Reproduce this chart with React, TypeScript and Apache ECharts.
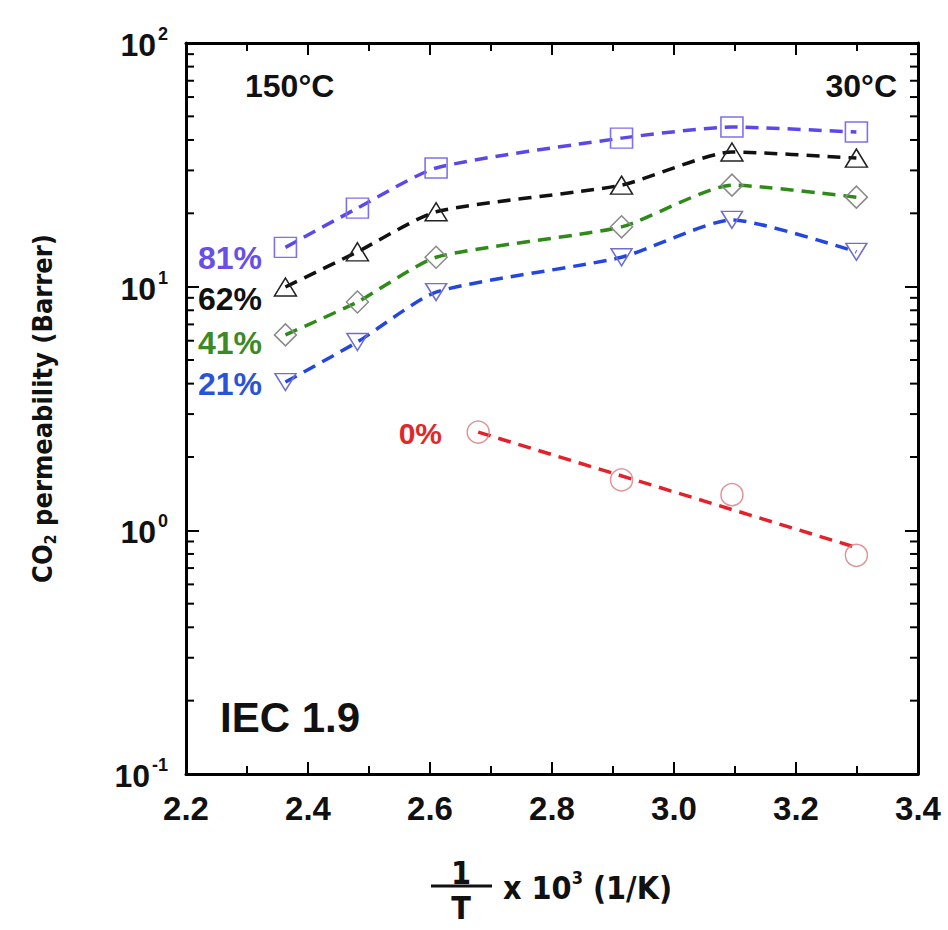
import React, { useEffect, useRef } from 'react';
import * as echarts from 'echarts';

// 1/T x 10^3 (1/K)
const invT = [2.363, 2.481, 2.61, 2.914, 3.095, 3.299];
// CO2 permeability (Barrer) at relative humidity
const rh81 = [14.5, 21.0, 30.7, 40.7, 45.2, 43.1];
const rh62 = [9.97, 13.9, 20.3, 26.1, 35.7, 33.7];
const rh41 = [6.34, 8.65, 13.2, 17.6, 26.1, 23.3];
const rh21 = [4.06, 5.93, 9.5, 13.2, 18.8, 13.9];
const invT0 = [2.679, 2.914, 3.095, 3.299];
const rh0 = [2.53, 1.61, 1.4, 0.79];
const fit0X = [2.679, 3.299];
const fit0Y = [2.53, 0.85];
// minor tick values of the log axis
const yMinorTicks = [
  0.2, 0.3, 0.4, 0.5, 0.6, 0.7, 0.8, 0.9,
  2, 3, 4, 5, 6, 7, 8, 9,
  20, 30, 40, 50, 60, 70, 80, 90,
];

const BOLD = '"Liberation Sans", Arial, Helvetica, sans-serif';
const NARROW = '"Liberation Sans Narrow", "DejaVu Sans Condensed", "Liberation Sans", Arial, sans-serif';

const X_MIN = 2.2;
const X_MAX = 3.4;

function pairs(xs: number[], ys: number[]) {
  return xs.map((x, i) => [x, ys[i]]);
}

function lineSeries(name: string, ys: number[], lineColor: string, symbol: string, symColor: string, size: any, rotate = 0) {
  return {
    name,
    type: 'line',
    data: pairs(invT, ys),
    smooth: 0.2,
    symbol,
    symbolSize: size,
    symbolRotate: rotate,
    showSymbol: true,
    lineStyle: { color: lineColor, width: 3.5, type: [13, 8] },
    itemStyle: { color: 'rgba(255,255,255,0)', borderColor: symColor, borderWidth: 1.5 },
    z: 3,
  };
}

export default function App() {
  const ref = useRef<HTMLDivElement>(null);
  useEffect(() => {
    document.body.style.margin = '0';
    const chart = echarts.init(ref.current!, undefined, { renderer: 'svg' });
    const axisLine = { show: true, lineStyle: { color: '#000', width: 3 } };
    const tickStyle = { color: '#000', width: 2 };
    chart.setOption({
      animation: false,
      backgroundColor: '#fff',
      grid: { left: 186, top: 43, right: 30, bottom: 156 },
      xAxis: [
        {
          type: 'value', min: X_MIN, max: X_MAX, interval: 0.2, position: 'bottom',
          axisLine, splitLine: { show: false },
          axisTick: { show: true, inside: true, length: 12, lineStyle: tickStyle },
          minorTick: { show: true, splitNumber: 2, length: 8, lineStyle: tickStyle },
          axisLabel: {
            show: true, margin: 18, fontFamily: BOLD, fontWeight: 'bold', fontSize: 33, color: '#111',
            formatter: (v: number) => v.toFixed(1),
          },
        },
        {
          type: 'value', min: X_MIN, max: X_MAX, interval: 0.2, position: 'top',
          axisLine, splitLine: { show: false },
          axisTick: { show: true, inside: true, length: 12, lineStyle: tickStyle },
          minorTick: { show: true, splitNumber: 2, length: 8, lineStyle: tickStyle },
          axisLabel: { show: false },
        },
      ],
      yAxis: [
        {
          type: 'log', logBase: 10, min: 0.1, max: 100, position: 'left',
          axisLine, splitLine: { show: false },
          axisTick: { show: true, inside: true, length: 13, lineStyle: tickStyle },
          axisLabel: {
            show: true, margin: 18, color: '#111',
            formatter: (v: number) => `{b|10}{sup|${Math.round(Math.log10(v))}}`,
            rich: {
              b: { fontFamily: BOLD, fontWeight: 'bold', fontSize: 32, lineHeight: 36, verticalAlign: 'bottom', color: '#111' },
              sup: { fontFamily: BOLD, fontWeight: 'bold', fontSize: 18, lineHeight: 20, verticalAlign: 'top', color: '#111', padding: [0, 0, 0, 2] },
            },
          },
          name: 'CO{sub|2} permeability (Barrer)',
          nameLocation: 'middle',
          nameRotate: 90,
          nameGap: 128,
          nameTextStyle: {
            fontFamily: NARROW, fontWeight: 'bold', fontSize: 27, color: '#111', lineHeight: 32,
            rich: {
              sub: { fontFamily: NARROW, fontWeight: 'bold', fontSize: 16, lineHeight: 32, verticalAlign: 'bottom', color: '#111', padding: [12, 0, 0, 0] },
            },
          },
        },
        {
          type: 'log', logBase: 10, min: 0.1, max: 100, position: 'right',
          axisLine, splitLine: { show: false },
          axisTick: { show: true, inside: true, length: 13, lineStyle: tickStyle },
          axisLabel: { show: false },
        },
      ],
      series: [
        {
          type: 'custom',
          name: 'minorTicks',
          silent: true,
          data: yMinorTicks.map((v) => [X_MIN, v]),
          renderItem: (params: any, api: any) => {
            const v = api.value(1);
            const pL = api.coord([X_MIN, v]);
            const pR = api.coord([X_MAX, v]);
            return {
              type: 'group',
              children: [
                { type: 'line', shape: { x1: pL[0], y1: pL[1], x2: pL[0] + 8, y2: pL[1] }, style: { stroke: '#000', lineWidth: 2 } },
                { type: 'line', shape: { x1: pR[0], y1: pR[1], x2: pR[0] - 8, y2: pR[1] }, style: { stroke: '#000', lineWidth: 2 } },
              ],
            };
          },
          z: 5,
        },
        lineSeries('81%', rh81, '#5a48ea', 'rect', '#7d70f0', [22, 20]),
        lineSeries('62%', rh62, '#111111', 'triangle', '#222222', [22, 18]),
        lineSeries('41%', rh41, '#2f8a1a', 'diamond', '#8a8a8a', [22, 22]),
        lineSeries('21%', rh21, '#2446e0', 'triangle', '#6f6fd0', [21, 17], 180),
        {
          name: '0% fit',
          type: 'line',
          data: pairs(fit0X, fit0Y),
          symbol: 'none',
          lineStyle: { color: '#e4202a', width: 3.5, type: [13, 8] },
          z: 3,
        },
        {
          name: '0%',
          type: 'scatter',
          data: pairs(invT0, rh0),
          symbol: 'circle',
          symbolSize: 22,
          itemStyle: { color: 'rgba(255,255,255,0)', borderColor: '#d77a80', borderWidth: 1.5 },
          z: 4,
        },
      ],
      graphic: [
        { type: 'text', left: 245, top: 70, style: { text: '150°C', font: `bold 32px ${BOLD}`, fill: '#111' } },
        { type: 'text', right: 51, top: 70, style: { text: '30°C', font: `bold 32px ${BOLD}`, fill: '#111' } },
        { type: 'text', x: 220, y: 717, style: { text: 'IEC 1.9', font: `bold 42px ${BOLD}`, fill: '#111', verticalAlign: 'middle' } },
        { type: 'text', x: 262, y: 258, style: { text: '81%', font: `bold 32px ${BOLD}`, fill: '#6a4fe6', align: 'right', verticalAlign: 'middle' } },
        { type: 'text', x: 262, y: 299, style: { text: '62%', font: `bold 32px ${BOLD}`, fill: '#111', align: 'right', verticalAlign: 'middle' } },
        { type: 'text', x: 262, y: 343, style: { text: '41%', font: `bold 32px ${BOLD}`, fill: '#3b8a26', align: 'right', verticalAlign: 'middle' } },
        { type: 'text', x: 262, y: 384, style: { text: '21%', font: `bold 32px ${BOLD}`, fill: '#2a54d6', align: 'right', verticalAlign: 'middle' } },
        { type: 'text', x: 442, y: 433, style: { text: '0%', font: `bold 30px ${BOLD}`, fill: '#e02828', align: 'right', verticalAlign: 'middle' } },
        { type: 'text', x: 461, y: 873, style: { text: '1', font: `bold 32px ${NARROW}`, fill: '#111', align: 'center', verticalAlign: 'middle' } },
        { type: 'line', shape: { x1: 431, y1: 886, x2: 492, y2: 886 }, style: { stroke: '#111', lineWidth: 3 } },
        { type: 'text', x: 461, y: 908, style: { text: 'T', font: `bold 32px ${NARROW}`, fill: '#111', align: 'center', verticalAlign: 'middle' } },
        {
          type: 'text', x: 503, y: 886,
          style: {
            text: '{b|x 10}{sup|3}{b| (1/K)}',
            verticalAlign: 'middle',
            rich: {
              b: { font: `bold 32px ${NARROW}`, fill: '#111', lineHeight: 36, verticalAlign: 'bottom' },
              sup: { font: `bold 18px ${NARROW}`, fill: '#111', lineHeight: 20, verticalAlign: 'top' },
            },
          },
        },
      ],
    });
    return () => chart.dispose();
  }, []);
  return <div ref={ref} style={{ width: 948, height: 930 }} />;
}
